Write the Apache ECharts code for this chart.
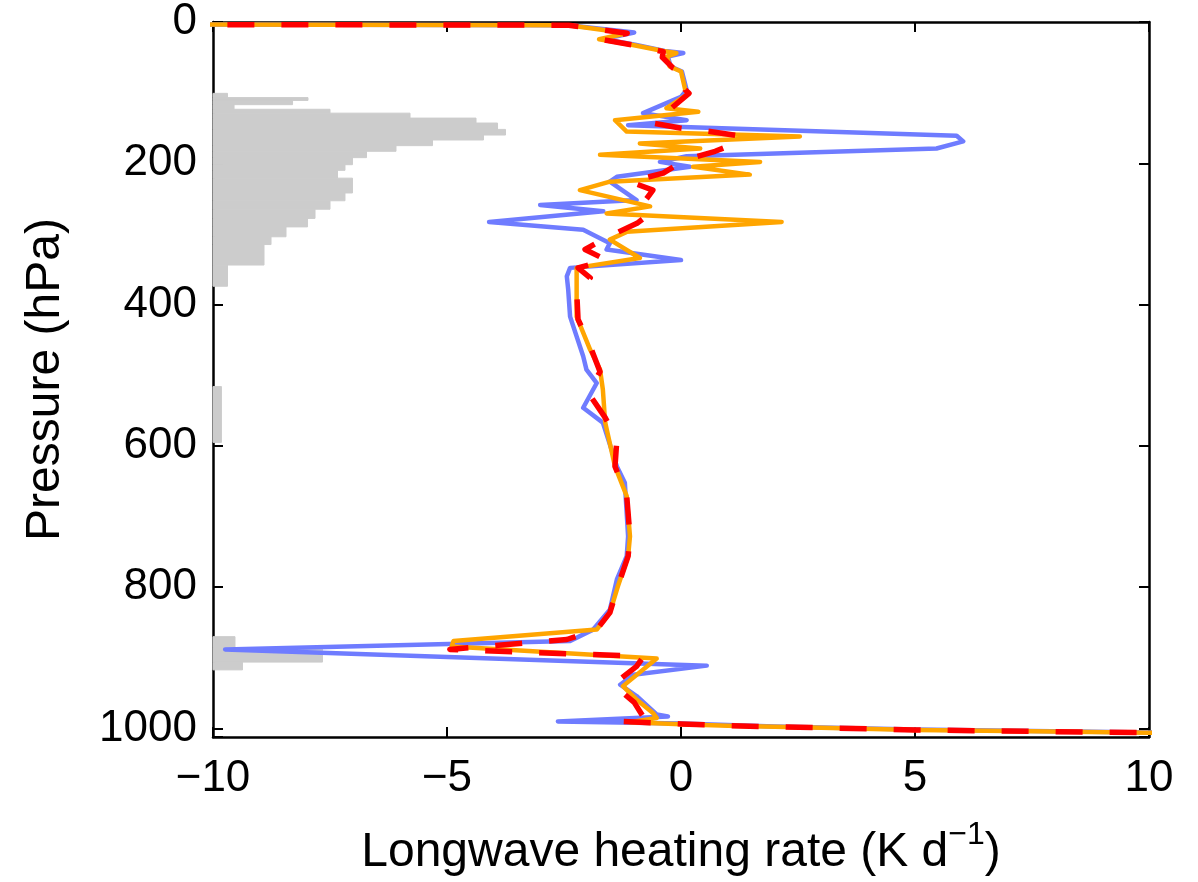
<!DOCTYPE html>
<html>
<head>
<meta charset="utf-8">
<script src="https://cdn.jsdelivr.net/npm/echarts@6/dist/echarts.min.js"></script>
<style>
html,body{margin:0;padding:0;background:#fff;}
#chart{width:1198px;height:882px;}
</style>
</head>
<body>
<div id="chart"></div>
<script>
// ---- data (pressure in hPa, heating rate in K/day) ----
const blueP = [3.5, 4.5, 15, 24, 32, 41, 44, 49, 63, 70, 96, 106, 129, 139, 146, 161, 169, 179, 190, 198, 205, 219, 226, 252, 259, 268, 283, 294, 313, 322, 337, 348, 360, 379, 417, 473, 492, 511, 546, 567, 629, 652, 728, 756, 789, 832, 860, 876, 888, 911, 924, 938, 954, 980, 983, 990, 993, 997, 1001.5, 1005.5, 1006.5];
const blueX = [-12, -2.4, -1.0, -1.65, -0.98, -0.35, 0.05, -0.28, -0.22, 0.02, 0.12, 0.0, -0.81, 0.12, -1.13, 5.89, 6.03, 5.46, 0.12, -0.45, 0.19, -1.37, -1.52, -0.95, -3.01, -1.66, -4.1, -2.09, -1.52, -1.59, 0.0, -2.37, -2.44, -2.41, -2.37, -2.09, -2.02, -1.8, -2.09, -1.67, -1.37, -1.2, -1.13, -1.16, -1.37, -1.52, -1.88, -2.37, -9.74, 0.55, -1.02, -1.3, -0.95, -0.52, -0.28, -2.63, 0, 2, 5, 10, 12];

const orangeP = [3.5, 4.5, 16, 24.5, 32.5, 41, 44, 49, 63, 70, 96, 101, 122, 127, 139, 155, 162, 172, 179, 188, 198, 205, 216, 226, 238, 261, 271, 283, 297, 308, 334, 348, 417, 464, 492, 520, 567, 629, 671, 728, 756, 799, 836, 860, 876, 884, 901, 940, 959, 978, 985, 991, 994, 996, 999, 1002, 1004, 1006, 1007];
const orangeX = [-12, -2.4, -1.15, -1.75, -1.03, -0.38, -0.1, -0.3, -0.24, 0.0, 0.09, 0.17, -0.31, 0.37, -1.41, -1.16, 2.54, -0.88, 0.41, -1.73, 1.69, 0.26, 1.47, -1.52, -2.16, -0.66, -1.59, 2.15, -1.16, -1.52, -0.88, -2.23, -2.23, -1.94, -1.73, -1.67, -1.62, -1.41, -1.16, -1.09, -1.13, -1.35, -1.52, -1.8, -4.86, -4.9, -0.52, -1.24, -0.95, -0.6, -0.52, -1.09, 0.0, 1.0, 3.0, 5.0, 7.5, 10, 12];

const redP = [3.5, 4.5, 16, 24.5, 32.5, 42, 50, 65, 70, 96, 101, 124, 143, 150, 155, 161, 169, 183, 195, 214, 226, 238, 263, 275, 285, 304, 322, 337, 348, 362, 379, 421, 452, 495, 525, 560, 591, 629, 671, 728, 756, 799, 836, 860, 874, 888, 898, 912, 938, 963, 984, 990, 993.5, 996, 999, 1002, 1004, 1006, 1007];
const redX = [-12, -2.4, -1.15, -1.72, -1.03, -0.38, -0.4, -0.17, 0.0, 0.09, 0.17, -0.24, -0.6, -0.02, 0.62, 1.22, 1.26, 0.73, 0.09, -0.38, -1.09, -0.6, -0.88, -0.74, -0.94, -1.56, -2.05, -1.59, -2.2, -1.94, -2.23, -2.2, -1.98, -1.73, -1.98, -1.62, -1.37, -1.41, -1.16, -1.09, -1.13, -1.35, -1.52, -1.8, -2.44, -4.94, -0.8, -0.95, -1.45, -1.0, -0.8, -1.27, 0.0, 1.0, 3.0, 5.0, 7.5, 10, 12];

// grey histogram: bin top pressure, bin bottom pressure, bar end (x units)
const histTop = [101, 107, 111, 117, 123.5, 129, 136, 143, 152, 160, 167, 175, 183, 192, 202, 210, 221, 242, 253, 265, 278, 290, 304, 315, 344, 516, 870, 886, 906];
const histBot = [107, 111, 117, 123.5, 129, 136, 143, 152, 160, 167, 175, 183, 192, 202, 210, 221, 242, 253, 265, 278, 290, 304, 315, 344, 374, 595, 886, 906, 917];
const histEnd = [-9.69, -7.97, -8.30, -9.55, -7.50, -5.79, -4.38, -3.92, -3.75, -4.22, -5.31, -6.09, -6.72, -7.02, -7.18, -7.34, -7.02, -7.18, -7.50, -7.82, -7.98, -8.44, -8.76, -8.91, -9.69, -9.82, -9.53, -7.66, -9.37];

const xTicks = [-10, -5, 0, 5, 10];
const yTicks = [0, 200, 400, 600, 800, 1000];

// ---- build ----
const FONT = '"Liberation Sans", Arial, Helvetica, sans-serif';
const zip = (xs, ps) => xs.map((x, i) => [x, ps[i]]);
const histData = histTop.map((t, i) => [t, histBot[i], histEnd[i]]);

const chart = echarts.init(document.getElementById('chart'), null, {renderer: 'canvas'});
const axisLineStyle = {color: '#000', width: 2.5};
const fmtX = v => (xTicks.indexOf(v) < 0 ? '' : (v < 0 ? '\u2212' + Math.abs(v) : String(v)));
const fmtY = v => (yTicks.indexOf(v) < 0 ? '' : String(v));

chart.setOption({
  animation: false,
  backgroundColor: '#fff',
  grid: {left: 213, top: 22, width: 936, height: 715, containLabel: false},
  xAxis: [{
    type: 'value', min: -10, max: 10, interval: 5, position: 'bottom',
    axisLine: {show: true, onZero: false, lineStyle: axisLineStyle},
    axisTick: {show: true, inside: true, length: 10, lineStyle: {color: '#000', width: 2}},
    axisLabel: {show: true, formatter: fmtX, fontSize: 44, fontFamily: FONT, color: '#000', margin: 20},
    splitLine: {show: false},
    name: 'Longwave heating rate (K d{sup|\u22121})',
    nameLocation: 'middle', nameGap: 82,
    nameTextStyle: {fontSize: 48, fontFamily: FONT, color: '#000',
      rich: {sup: {fontSize: 32, fontFamily: FONT, color: '#000', padding: [0, 0, 36, 0]}}}
  }, {
    type: 'value', min: -10, max: 10, interval: 5, position: 'top',
    axisLine: {show: true, onZero: false, lineStyle: axisLineStyle},
    axisTick: {show: true, inside: true, length: 10, lineStyle: {color: '#000', width: 2}},
    axisLabel: {show: false}, splitLine: {show: false}
  }],
  yAxis: [{
    type: 'value', min: 0, max: 1012, interval: 200, inverse: true, position: 'left',
    axisLine: {show: true, onZero: false, lineStyle: axisLineStyle},
    axisTick: {show: true, inside: true, length: 10, lineStyle: {color: '#000', width: 2}},
    axisLabel: {show: true, formatter: fmtY, fontSize: 44, fontFamily: FONT, color: '#000', margin: 16},
    splitLine: {show: false},
    name: 'Pressure (hPa)', nameLocation: 'middle', nameGap: 143, nameRotate: 90,
    nameTextStyle: {fontSize: 48, fontFamily: FONT, color: '#000'}
  }, {
    type: 'value', min: 0, max: 1012, interval: 200, inverse: true, position: 'right',
    axisLine: {show: true, onZero: false, lineStyle: axisLineStyle},
    axisTick: {show: true, inside: true, length: 10, lineStyle: {color: '#000', width: 2}},
    axisLabel: {show: false}, splitLine: {show: false}
  }],
  series: [{
    type: 'custom', xAxisIndex: 0, yAxisIndex: 0, z: 1,
    encode: {x: 2, y: [0, 1]},
    data: histData,
    renderItem: function (params, api) {
      const a = api.coord([-10, api.value(0)]);
      const b = api.coord([api.value(2), api.value(1)]);
      return {type: 'rect', shape: {x: a[0], y: a[1], width: b[0] - a[0], height: b[1] - a[1]},
        style: {fill: '#cccccc', stroke: '#cccccc', lineWidth: 1}};
    }
  }, {
    type: 'line', xAxisIndex: 0, yAxisIndex: 0, z: 2, symbol: 'none', smooth: false,
    data: zip(blueX, blueP),
    lineStyle: {color: '#6f7cff', width: 4.5, join: 'round'}
  }, {
    type: 'line', xAxisIndex: 0, yAxisIndex: 0, z: 3, symbol: 'none', smooth: false,
    data: zip(orangeX, orangeP),
    lineStyle: {color: '#ffa500', width: 4.5, join: 'round'}
  }, {
    type: 'line', xAxisIndex: 0, yAxisIndex: 0, z: 4, symbol: 'none', smooth: false,
    data: zip(redX, redP),
    lineStyle: {color: '#ff0000', width: 5.5, type: [27, 27], join: 'round'}
  }]
});
</script>
</body>
</html>
